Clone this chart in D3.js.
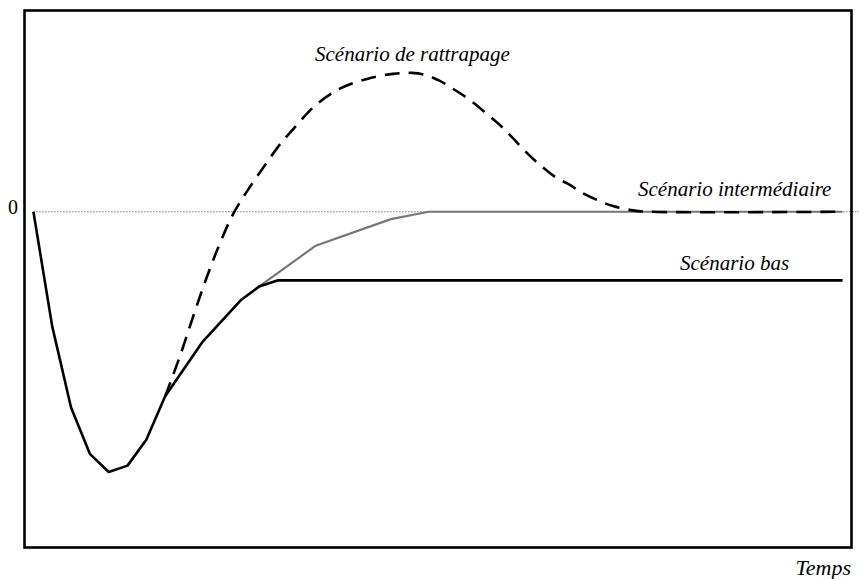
<!DOCTYPE html>
<html>
<head>
<meta charset="utf-8">
<script src="https://cdn.jsdelivr.net/npm/d3@7/dist/d3.min.js"></script>
<style>
    body { margin: 0; background: #fff; }
</style>
</head>
<body>
<div id="chart"></div>
<script>

// Time (abstract units) and values
var basTime  = [0.5, 1.5, 2.5, 3.5, 4.5, 5.5, 6.5, 7.5, 9.5, 11.5, 12.5, 13.5, 43.5];
var basValue = [0, -3.41, -5.82, -7.2, -7.74, -7.55, -6.78, -5.49, -3.86, -2.64, -2.22, -2.04, -2.04];

var interTime  = [12.5, 15.5, 19.5, 21.5, 43.5];
var interValue = [-2.22, -1.01, -0.22, 0, 0];

var rattTime  = [7.5, 8.29, 8.98, 9.62, 10.31, 11.11, 11.9, 12.7, 13.5, 14.4, 15.46, 16.79, 18.23, 19.61,
                 20.62, 21.31, 22.1, 22.9, 23.7, 24.6, 25.29, 25.98, 26.62, 27.42, 28.32, 29.01, 29.54,
                 30.45, 31.3, 32.36, 33.26, 43.5];
var rattValue = [-5.49, -4.29, -3.13, -2.09, -1.08, -0.07, 0.65, 1.3, 1.93, 2.52, 3.15, 3.66, 3.95, 4.1,
                 4.13, 4.07, 3.89, 3.62, 3.32, 2.91, 2.58, 2.19, 1.81, 1.39, 1.0, 0.8, 0.6,
                 0.35, 0.17, 0.04, 0, 0];

var yTicks = [0];

var W = 859, H = 579;
var margin = { top: 10, right: 7, bottom: 31, left: 24 };
var width = W - margin.left - margin.right;
var height = H - margin.top - margin.bottom;
var serif = "'Liberation Serif', 'Times New Roman', Times, serif";

var svg = d3.select("#chart").append("svg")
    .attr("width", W)
    .attr("height", H);

// Scales
var x = d3.scaleLinear()
    .domain([0, 44])
    .range([margin.left, margin.left + width]);

var y = d3.scaleLinear()
    .domain([-10, 6])
    .range([margin.top + height, margin.top]);

function zip(t, v) {
    return t.map(function(d, i) { return { t: d, v: v[i] }; });
}

var line = d3.line()
    .x(function(d) { return x(d.t); })
    .y(function(d) { return y(d.v); })
    .curve(d3.curveLinear);

var smooth = d3.line()
    .x(function(d) { return x(d.t); })
    .y(function(d) { return y(d.v); })
    .curve(d3.curveCatmullRom.alpha(0.5));

// zero reference (dotted), runs to the page edge
svg.append("line")
    .attr("x1", x(0.5))
    .attr("x2", W)
    .attr("y1", y(0))
    .attr("y2", y(0))
    .attr("stroke", "#333")
    .attr("stroke-width", 1)
    .attr("stroke-dasharray", "1,2");

// y tick label
svg.selectAll(".ytick")
    .data(yTicks)
    .enter()
    .append("text")
    .attr("class", "ytick")
    .attr("x", 13)
    .attr("y", function(d) { return y(d) + 2; })
    .attr("text-anchor", "middle")
    .attr("font-family", serif)
    .attr("font-size", 20)
    .text(function(d) { return d; });

// scenario lines
svg.append("path")
    .attr("d", line(zip(interTime, interValue)))
    .attr("fill", "none")
    .attr("stroke", "#777")
    .attr("stroke-width", 2.2);

svg.append("path")
    .attr("d", line(zip(basTime, basValue)))
    .attr("fill", "none")
    .attr("stroke", "#000")
    .attr("stroke-width", 2.6)
    .attr("stroke-linejoin", "round");

svg.append("path")
    .attr("d", smooth(zip(rattTime, rattValue)))
    .attr("fill", "none")
    .attr("stroke", "#000")
    .attr("stroke-width", 2.6)
    .attr("stroke-dasharray", "15,9");

// frame
svg.append("rect")
    .attr("x", margin.left + 0.5)
    .attr("y", margin.top + 0.5)
    .attr("width", width - 1)
    .attr("height", height - 1)
    .attr("fill", "none")
    .attr("stroke", "#000")
    .attr("stroke-width", 2.6);

// labels
var labels = [
    { text: "Scénario de rattrapage", x: 315, y: 61, size: 21, anchor: "start" },
    { text: "Scénario intermédiaire", x: 638, y: 196, size: 21, anchor: "start" },
    { text: "Scénario bas", x: 680, y: 270, size: 21, anchor: "start" },
    { text: "Temps", x: 851, y: 575, size: 22, anchor: "end" }
];

svg.selectAll(".lbl")
    .data(labels)
    .enter()
    .append("text")
    .attr("class", "lbl")
    .attr("x", function(d) { return d.x; })
    .attr("y", function(d) { return d.y; })
    .attr("text-anchor", function(d) { return d.anchor; })
    .attr("font-family", serif)
    .attr("font-style", "italic")
    .attr("font-size", function(d) { return d.size; })
    .text(function(d) { return d.text; });

</script>
</body>
</html>
